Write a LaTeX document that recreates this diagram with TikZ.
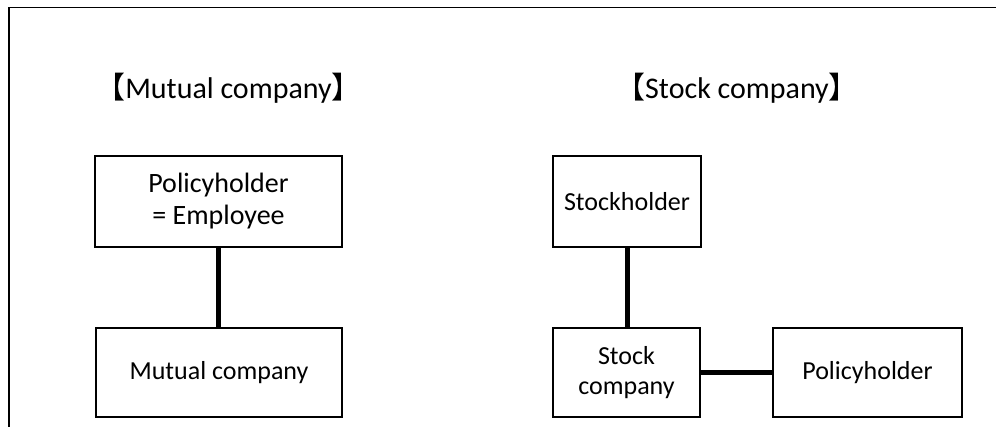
\documentclass[tikz,border=0pt]{standalone}
\usepackage{fontspec}
\setmainfont{Carlito}
\newfontfamily\cjkf{Noto Sans CJK SC}
\begin{document}
\begin{tikzpicture}[x=1pt,y=-1pt,
  boxst/.style={draw=black, line width=2.2pt, inner sep=0pt, align=center,
    font=\fontsize{26}{30}\selectfont},
  bigtext/.style={font=\fontsize{28}{32}\selectfont},
  conn/.style={line width=5pt},
  titlest/.style={inner sep=0pt, font=\fontsize{30}{34}\selectfont}]
\useasboundingbox (0,0) rectangle (996,427);
\draw[line width=1.5pt] (9,430) -- (9,7.3) -- (1000,7.3);
\node[titlest, anchor=base] (t1) at (228.5,99) {{\cjkf 【}Mutual company{\cjkf 】}};
\node[titlest, anchor=base] (t2) at (737,99) {{\cjkf 【}Stock company{\cjkf 】}};
\node[boxst, bigtext, minimum width=247pt, minimum height=91pt] (pe) at (218.5,201.5) {Policyholder\\= Employee};
\node[boxst, minimum width=246pt, minimum height=89pt] (mc) at (219,372.5) {Mutual company};
\node[boxst, minimum width=148pt, minimum height=91pt] (sh) at (627,201.5) {Stockholder};
\node[boxst, minimum width=147pt, minimum height=89pt] (sc) at (626.5,372.5) {Stock\\company};
\node[boxst, minimum width=189pt, minimum height=89pt] (ph) at (867.5,372.5) {Policyholder};
\draw[conn] (pe.south) -- (pe.south |- mc.north);
\draw[conn] (sh.south) -- (sh.south |- sc.north);
\draw[conn] (sc.east) -- (ph.west);
\end{tikzpicture}
\end{document}
